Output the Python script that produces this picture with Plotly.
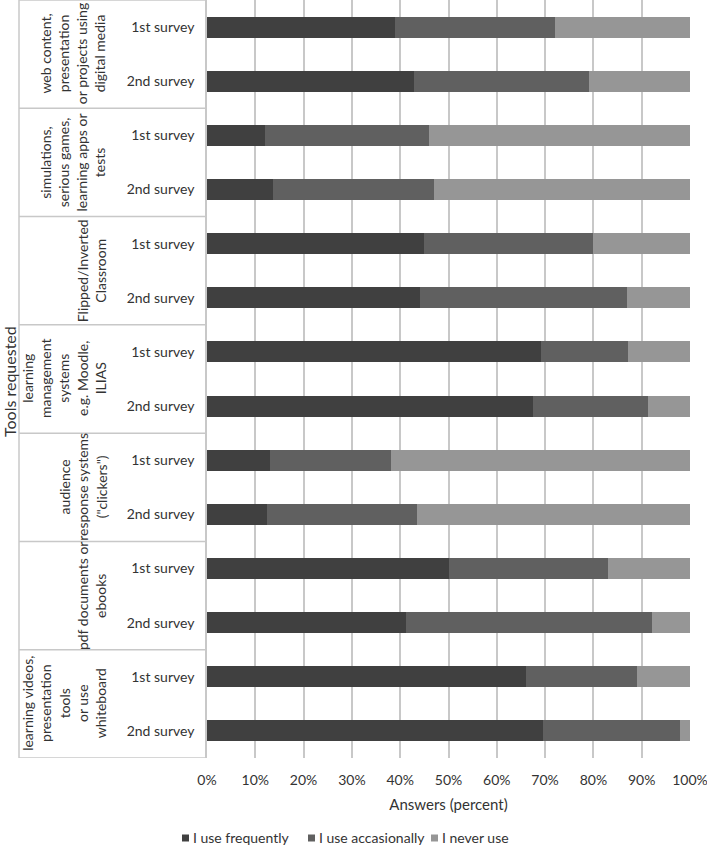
import plotly.graph_objects as go

groups = [
    "web content,<br>presentation<br>or projects using<br>digital media",
    "simulations,<br>serious games,<br>learning apps or<br>tests",
    "Flipped/Inverted<br>Classroom",
    "learning<br>management<br>systems<br>e.g. Moodle,<br>ILIAS",
    "audience<br>response systems<br>(\"clickers\")",
    "pdf documents or<br>ebooks",
    "learning videos,<br>presentation<br>tools<br>or use<br>whiteboard",
]
surveys = ["1st survey", "2nd survey"]
series_names = ["I use frequently", "I use accasionally", "I never use"]

frequent   = [39.0, 42.8, 12.0, 13.7, 45.0, 44.2, 69.1, 67.4, 13.0, 12.4, 50.0, 41.3, 66.0, 69.6]
occasional = [33.0, 36.2, 34.0, 33.4, 35.0, 42.8, 18.0, 24.0, 25.0, 31.0, 33.0, 50.8, 23.0, 28.3]
never      = [28.0, 21.0, 54.0, 52.9, 20.0, 13.0, 12.9, 8.6, 62.0, 56.6, 17.0, 7.9, 11.0, 2.1]
x_ticks = list(range(0, 101, 10))
x_ticklabels = [f"{v}%" for v in x_ticks]

colors = ["#404040", "#606060", "#969696"]
FONT = "Lato"
TXT = "#333333"

W, H = 707, 853
L, R, T, B = 207, 17, 0, 95
pw = W - L - R
ph = H - T - B

rows = [(gi, s) for gi in range(len(groups)) for s in surveys]
ypos = list(range(len(rows)))
ytext = [s for _, s in rows]

fig = go.Figure()
for name, vals, c in zip(series_names, [frequent, occasional, never], colors):
    fig.add_trace(go.Bar(
        y=ypos, x=vals, orientation="h", name=name, showlegend=False,
        marker=dict(color=c, line=dict(width=0)), width=0.39,
    ))

def px2paper_x(px):
    return (px - L) / pw

def px2paper_y(py):
    return 1 - (py - T) / ph

annotations = []
for gi, g in enumerate(groups):
    yc = gi * 2 + 0.5
    annotations.append(dict(
        text=g, x=px2paper_x(111), xref="paper", xanchor="right",
        y=yc, yref="y", yanchor="middle", textangle=-90, showarrow=False,
        align="center", font=dict(family=FONT, size=14, color=TXT),
    ))
annotations.append(dict(
    text="Tools requested", x=px2paper_x(9), xref="paper", xanchor="center",
    y=px2paper_y(382), yref="paper", yanchor="middle", textangle=-90,
    showarrow=False, font=dict(family=FONT, size=16, color=TXT),
))

shapes = []

# legend row (custom, Excel style: small square + label)
legend_x = [182, 308, 431]
sq = 7
for name, c, lx in zip(series_names, colors, legend_x):
    shapes.append(dict(type="rect", xref="paper", yref="paper",
                       x0=px2paper_x(lx), x1=px2paper_x(lx + sq),
                       y0=px2paper_y(838 + sq / 2), y1=px2paper_y(838 - sq / 2),
                       fillcolor=c, line=dict(width=0)))
    annotations.append(dict(
        text=name, x=px2paper_x(lx + sq + 2), xref="paper", xanchor="left",
        y=px2paper_y(837), yref="paper", yanchor="middle", showarrow=False,
        font=dict(family=FONT, size=14, color=TXT),
    ))

lc = "#c8c8c8"
x_left = px2paper_x(19)
shapes.append(dict(type="line", xref="paper", yref="paper", x0=x_left, x1=x_left,
                   y0=0, y1=1, line=dict(color=lc, width=1.5)))
for k in range(len(groups) + 1):
    yb = k * 2 - 0.5
    shapes.append(dict(type="line", xref="paper", yref="y", x0=x_left, x1=0,
                       y0=yb, y1=yb, line=dict(color=lc, width=1.5)))

fig.update_layout(
    width=W, height=H,
    margin=dict(l=L, r=R, t=T, b=B),
    barmode="stack",
    plot_bgcolor="white", paper_bgcolor="white",
    font=dict(family=FONT, size=14, color=TXT),
    showlegend=False,
    xaxis=dict(range=[0, 100], tickmode="array", tickvals=x_ticks, ticktext=x_ticklabels,
               showgrid=True, gridcolor=lc, gridwidth=1.5, zeroline=False,
               showline=False, ticks="", ticklabelstandoff=12, ticklabeloverflow="allow",
               title=dict(text="Answers (percent)", font=dict(size=15, family=FONT, color=TXT), standoff=12),
               tickfont=dict(family=FONT, size=14, color=TXT)),
    yaxis=dict(range=[len(rows) - 0.5, -0.5], tickmode="array", tickvals=ypos, ticktext=ytext,
               showgrid=False, zeroline=False, showline=True, linecolor=lc, linewidth=1.5,
               ticks="", ticklabelstandoff=8,
               tickfont=dict(family=FONT, size=14, color=TXT)),
    annotations=annotations,
    shapes=shapes,
    bargap=0.6,
)

fig.write_html("out.html")
